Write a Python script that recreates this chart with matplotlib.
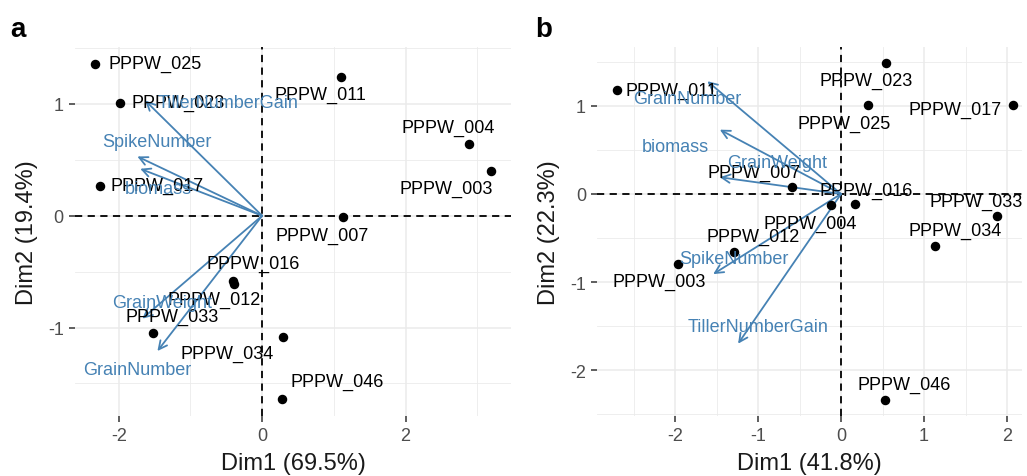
import matplotlib
matplotlib.use("Agg")
import matplotlib.pyplot as plt

plt.rcParams['font.family'] = ['Liberation Sans', 'DejaVu Sans']
plt.rcParams['axes.unicode_minus'] = False

# ---- panel a data ----
a_names = ["PPPW_025", "PPPW_023", "PPPW_017", "PPPW_011", "PPPW_004", "PPPW_003",
           "PPPW_007", "PPPW_016", "PPPW_012", "PPPW_033", "PPPW_034", "PPPW_046"]
a_dim1 = [-2.33, -1.98, -2.26, 1.10, 2.88, 3.19, 1.13, -0.41, -0.39, -1.52, 0.29, 0.28]
a_dim2 = [1.36, 1.01, 0.27, 1.24, 0.64, 0.40, -0.01, -0.58, -0.61, -1.05, -1.08, -1.64]
a_vars = ["TillerNumberGain", "SpikeNumber", "biomass", "GrainWeight", "GrainNumber"]
a_var1 = [-1.63, -1.74, -1.70, -1.67, -1.46]
a_var2 = [1.03, 0.53, 0.42, -0.92, -1.21]

# ---- panel b data ----
b_names = ["PPPW_011", "PPPW_023", "PPPW_025", "PPPW_017", "PPPW_007", "PPPW_016",
           "PPPW_004", "PPPW_033", "PPPW_034", "PPPW_012", "PPPW_003", "PPPW_046"]
b_dim1 = [-2.70, 0.54, 0.33, 2.07, -0.59, 0.17, -0.12, 1.88, 1.13, -1.29, -1.96, 0.53]
b_dim2 = [1.18, 1.49, 1.01, 1.01, 0.08, -0.11, -0.13, -0.25, -0.59, -0.66, -0.79, -2.34]
b_vars = ["GrainNumber", "biomass", "GrainWeight", "SpikeNumber", "TillerNumberGain"]
b_var1 = [-1.61, -1.46, -1.46, -1.54, -1.24]
b_var2 = [1.28, 0.73, 0.19, -0.91, -1.70]

# label offsets in pixels (repel-like placement)
a_off = [(60, 0), (58, 0), (57, 0), (-21, -17), (-20, 17), (-45, -17),
         (-21, -19), (20, 17), (-20, -15), (19, 17), (-56, -17), (55, 18)]
a_var_off = [(83, -2), (20, 15), (18, -20), (20, 16), (-20, -18)]
b_off = [(55, 0), (-20, -18), (-24, -18), (-58, -4), (-38, 15), (11, 13),
         (-21, -18), (-21, 15), (20, 16), (19, 16), (-19, -18), (19, 16)]
b_var_off = [(-20, -17), (-44, -17), (57, 15), (21, 16), (20, 17)]

ARROW = "#4682B4"


def draw_panel(ax, names, d1, d2, offs, vars_, v1, v2, voffs, xlim, ylim,
               xmaj, xmin, ymaj, ymin, xlab, ylab):
    ax.set_xlim(*xlim)
    ax.set_ylim(*ylim)
    ax.set_xticks(xmaj)
    ax.set_xticks(xmin, minor=True)
    ax.set_yticks(ymaj)
    ax.set_yticks(ymin, minor=True)
    ax.grid(True, which="major", color="#EBEBEB", lw=1.1)
    ax.grid(True, which="minor", color="#EBEBEB", lw=0.6)
    ax.set_axisbelow(True)
    for s in ax.spines.values():
        s.set_visible(False)
    ax.tick_params(which="major", length=4, width=1.1, color="#333333",
                   labelsize=13, labelcolor="#4D4D4D", pad=4)
    ax.tick_params(which="minor", length=0)
    ax.set_xlabel(xlab, fontsize=17, color="#1A1A1A", labelpad=6)
    ax.set_ylabel(ylab, fontsize=17, color="#1A1A1A", labelpad=7)

    ax.axhline(0, color="black", lw=1.3, ls=(0, (4, 3)), zorder=1)
    ax.axvline(0, color="black", lw=1.3, ls=(0, (4, 3)), zorder=1)

    ax.scatter(d1, d2, s=34, color="black", zorder=3)
    for n, x, y, o in zip(names, d1, d2, offs):
        ax.annotate(n, (x, y), xytext=o, textcoords="offset pixels",
                    ha="center", va="center", fontsize=13, color="black", zorder=4)

    for n, x, y, o in zip(vars_, v1, v2, voffs):
        ax.annotate("", xy=(x, y), xytext=(0, 0),
                    arrowprops=dict(arrowstyle="->,head_length=0.6,head_width=0.3",
                                    color=ARROW, lw=1.3, shrinkA=0, shrinkB=0),
                    zorder=2)
        ax.annotate(n, (x, y), xytext=o, textcoords="offset pixels",
                    ha="center", va="center", fontsize=13, color=ARROW, zorder=4)


fig = plt.figure(figsize=(10.27, 4.77), dpi=100)
ax1 = fig.add_axes([0.073, 0.126, 0.4245, 0.7736])
ax2 = fig.add_axes([0.5813, 0.126, 0.4138, 0.7736])

draw_panel(ax1, a_names, a_dim1, a_dim2, a_off, a_vars, a_var1, a_var2, a_var_off,
           (-2.61, 3.47), (-1.79, 1.51), [-2, 0, 2], [-1, 1, 3],
           [-1, 0, 1], [-1.5, -0.5, 0.5, 1.5], "Dim1 (69.5%)", "Dim2 (19.4%)")
draw_panel(ax2, b_names, b_dim1, b_dim2, b_off, b_vars, b_var1, b_var2, b_var_off,
           (-2.94, 2.18), (-2.52, 1.67), [-2, -1, 0, 1, 2], [-2.5, -1.5, -0.5, 0.5, 1.5],
           [-2, -1, 0, 1], [-2.5, -1.5, -0.5, 0.5, 1.5], "Dim1 (41.8%)", "Dim2 (22.3%)")

fig.text(0.010, 0.965, "a", fontsize=20, fontweight="bold", va="top")
fig.text(0.521, 0.965, "b", fontsize=20, fontweight="bold", va="top")

fig.savefig("out.png", dpi=100)
